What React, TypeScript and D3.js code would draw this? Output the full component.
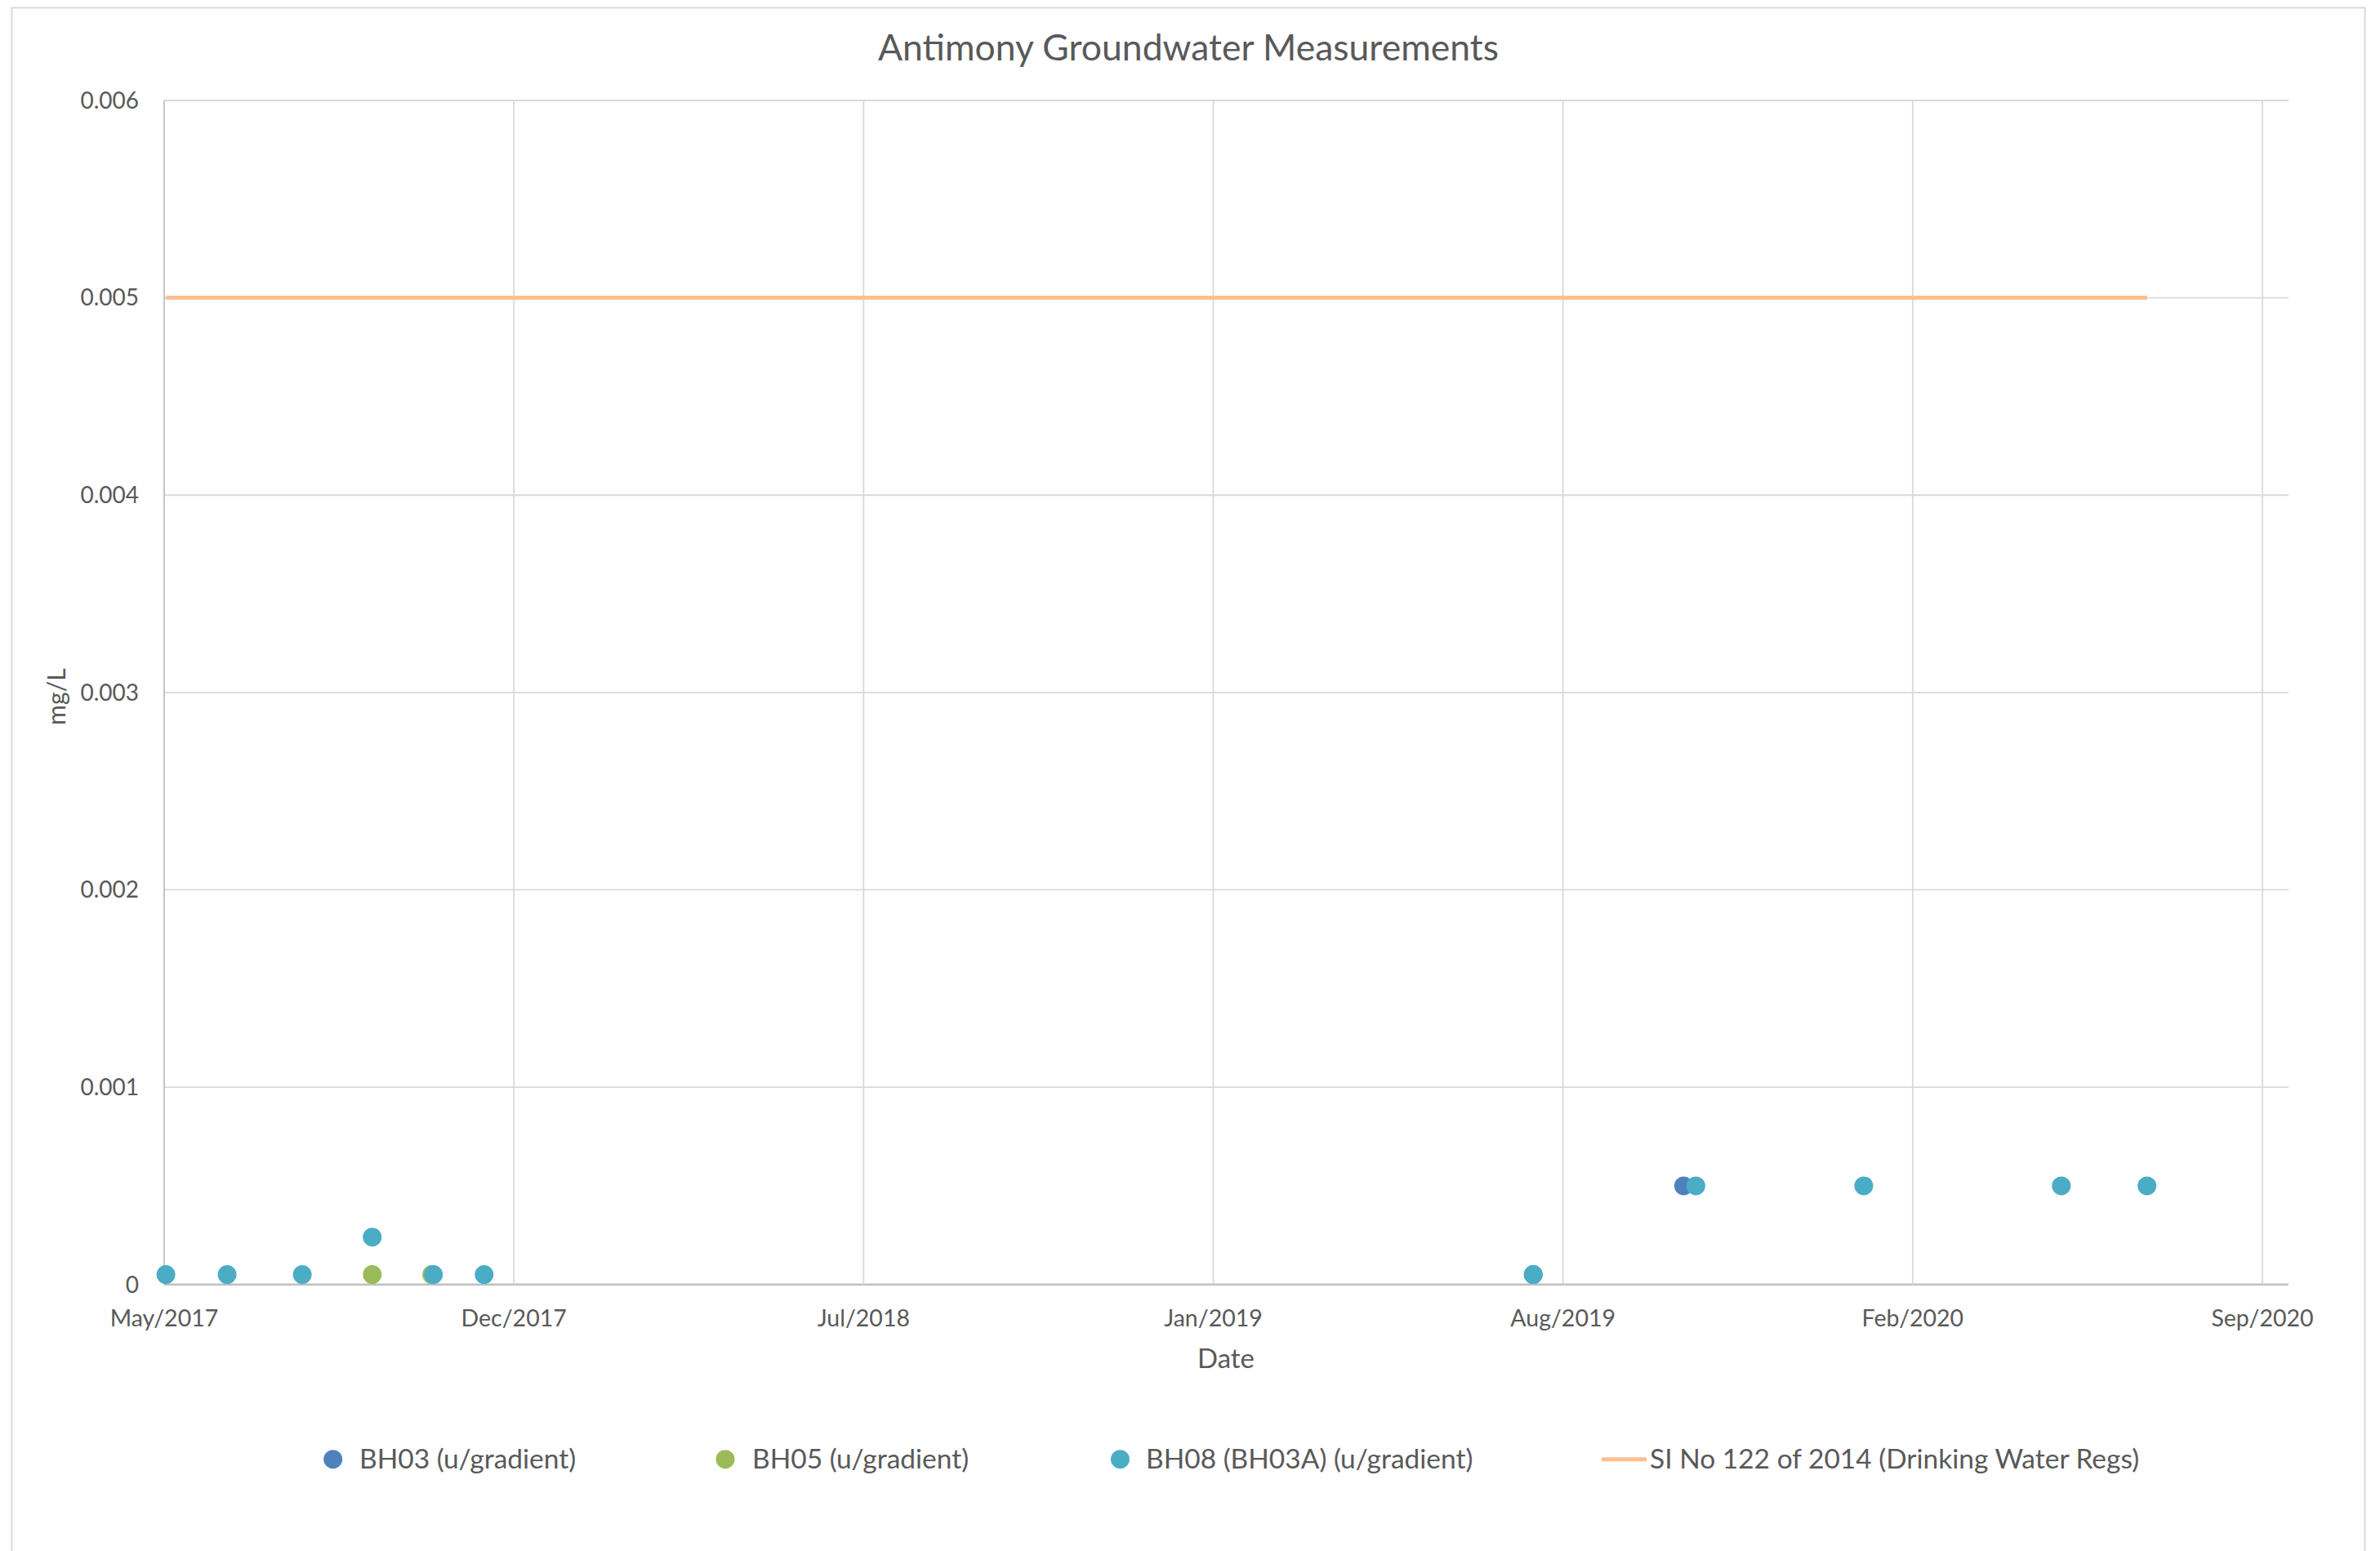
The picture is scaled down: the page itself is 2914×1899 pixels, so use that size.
import React from "react";
import * as d3 from "d3";

const W = 2914;
const H = 1899;

const title = "Antimony Groundwater Measurements";
const xTitle = "Date";
const yTitle = "mg/L";

const xTickDates = ["2017-05-29", "2017-12-15", "2018-07-03", "2019-01-19", "2019-08-07", "2020-02-23", "2020-09-10"];
const xTickLabels = ["May/2017", "Dec/2017", "Jul/2018", "Jan/2019", "Aug/2019", "Feb/2020", "Sep/2020"];
const yTicks = [0, 0.001, 0.002, 0.003, 0.004, 0.005, 0.006];

const bh03Dates = ["2019-07-21", "2019-10-15"];
const bh03Values = [0.00005, 0.0005];

const bh05Dates = ["2017-09-25", "2017-10-29"];
const bh05Values = [0.00005, 0.00005];

const bh08Dates = ["2017-05-30", "2017-07-04", "2017-08-16", "2017-09-25", "2017-10-30", "2017-11-28", "2019-07-21", "2019-10-22", "2020-01-26", "2020-05-18", "2020-07-06"];
const bh08Values = [0.00005, 0.00005, 0.00005, 0.00024, 0.00005, 0.00005, 0.00005, 0.0005, 0.0005, 0.0005, 0.0005];

const limitDates = ["2017-05-30", "2020-07-06"];
const limitValues = [0.005, 0.005];

const seriesNames = ["BH03 (u/gradient)", "BH05 (u/gradient)", "BH08 (BH03A) (u/gradient)", "SI No 122 of 2014 (Drinking Water Regs)"];
const seriesColors = ["#4F81BD", "#9BBB59", "#4BACC6", "#FAC090"];

const parse = d3.timeParse("%Y-%m-%d");

export default function App() {
  const left = 201;
  const top = 123;
  const bottom = 1572.7;
  const plotRight = 2802;
  const lastTickX = 2770;

  const tickDates = xTickDates.map((d) => parse(d) as Date);
  const x = d3.scaleTime().domain([tickDates[0], tickDates[tickDates.length - 1]]).range([left, lastTickX]);
  const y = d3.scaleLinear().domain([0, 0.006]).range([bottom, top]);

  const mk = (dates: string[], vals: number[]) => dates.map((d, i) => ({ d: parse(d) as Date, v: vals[i] }));
  const scatter = [
    { pts: mk(bh03Dates, bh03Values), color: seriesColors[0] },
    { pts: mk(bh05Dates, bh05Values), color: seriesColors[1] },
    { pts: mk(bh08Dates, bh08Values), color: seriesColors[2] },
  ];
  const limit = mk(limitDates, limitValues);
  const line = d3.line<{ d: Date; v: number }>().x((p) => x(p.d)).y((p) => y(p.v));

  const textColor = "#595959";
  const font = "Lato, 'Open Sans', sans-serif";

  const legendItems = [
    { mx: 407.7, tx: 440 },
    { mx: 888, tx: 921 },
    { mx: 1371.5, tx: 1403 },
    { mx: 1988, tx: 2020 },
  ];
  const legendY = 1786.7;

  return (
    <svg width={W} height={H} style={{ position: "absolute", left: 0, top: 0, background: "#fff" }} fontFamily={font}>
      <rect x={0} y={0} width={W} height={H} fill="#fff" />
      <rect x={14.5} y={9.5} width={2881} height={H + 20} fill="none" stroke="#D9D9D9" strokeWidth={2} />
      <text x={1455} y={74} textAnchor="middle" fontSize={44.5} fill={textColor}>{title}</text>

      {yTicks.map((t) => (
        <line key={"h" + t} x1={left} x2={plotRight} y1={y(t)} y2={y(t)} stroke={t === 0 ? "#BFBFBF" : "#D9D9D9"} strokeWidth={t === 0 ? 2.5 : 1.8} />
      ))}
      {tickDates.map((d, i) => (
        <line key={"v" + i} x1={x(d)} x2={x(d)} y1={top} y2={bottom} stroke={i === 0 ? "#BFBFBF" : "#D9D9D9"} strokeWidth={1.8} />
      ))}

      {yTicks.map((t) => (
        <text key={"yl" + t} x={170} y={y(t)} dy="0.35em" textAnchor="end" fontSize={28} fill={textColor}>
          {t === 0 ? "0" : d3.format(".3f")(t)}
        </text>
      ))}
      {tickDates.map((d, i) => (
        <text key={"xl" + i} x={x(d)} y={1624} textAnchor="middle" fontSize={28.5} fill={textColor}>{xTickLabels[i]}</text>
      ))}

      <text x={1501} y={1675} textAnchor="middle" fontSize={33} fill={textColor}>{xTitle}</text>
      <text transform="translate(80,853) rotate(-90)" textAnchor="middle" fontSize={30} fill={textColor}>{yTitle}</text>

      <path d={line(limit) || ""} fill="none" stroke={seriesColors[3]} strokeWidth={5} />

      {scatter.map((s, si) => (
        <g key={"s" + si}>
          {s.pts.map((p, i) => (
            <circle key={i} cx={x(p.d)} cy={y(p.v)} r={11.5} fill={s.color} />
          ))}
        </g>
      ))}

      {seriesNames.map((n, i) => (
        <g key={"lg" + i}>
          {i < 3 ? (
            <circle cx={legendItems[i].mx} cy={legendY} r={11.5} fill={seriesColors[i]} />
          ) : (
            <line x1={1961} x2={2016} y1={legendY} y2={legendY} stroke={seriesColors[3]} strokeWidth={5} />
          )}
          <text x={legendItems[i].tx} y={legendY + 11} fontSize={33.5} fill={textColor}>{n}</text>
        </g>
      ))}
    </svg>
  );
}
